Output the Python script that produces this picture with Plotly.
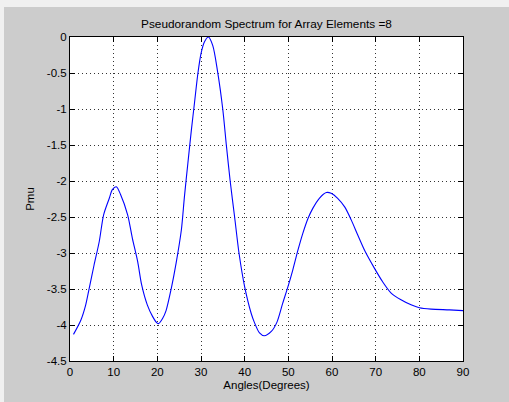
import plotly.graph_objects as go

angles = [0.8, 2.5, 3.6, 4.4, 5.5, 6.7, 7.7, 9.0, 9.7, 10.6, 11.6, 13.2, 14.3, 15.5, 16.4,
          17.7, 18.9, 19.9, 20.3, 21.2, 22.0, 23.2, 24.3, 25.5, 26.2, 27.0, 27.8, 28.5,
          29.3, 30.0, 30.8, 31.7, 32.7, 33.8, 35.0, 35.8, 36.7, 37.7, 38.7, 40.0, 41.5,
          42.2, 43.4, 44.5, 46.1, 47.4, 48.7, 49.9, 51.0, 52.2, 53.3, 54.5, 55.6, 57.1,
          58.7, 59.8, 61.3, 62.9, 64.4, 65.9, 67.6, 69.7, 71.6, 73.6, 75.8, 78.1, 80.0,
          82.7, 86.9, 90.0]
pmu = [-4.13, -3.93, -3.72, -3.49, -3.17, -2.84, -2.47, -2.24, -2.12, -2.08, -2.19, -2.47,
       -2.80, -3.12, -3.44, -3.72, -3.88, -3.97, -3.98, -3.91, -3.80, -3.49, -3.14, -2.68,
       -2.22, -1.75, -1.29, -0.92, -0.50, -0.23, -0.065, 0.0, -0.12, -0.48, -1.01, -1.50,
       -2.01, -2.50, -3.00, -3.47, -3.84, -3.96, -4.11, -4.15, -4.09, -3.96, -3.70, -3.47,
       -3.24, -2.96, -2.73, -2.52, -2.38, -2.24, -2.16, -2.17, -2.24, -2.36, -2.54, -2.75,
       -2.98, -3.21, -3.40, -3.56, -3.65, -3.72, -3.76, -3.78, -3.79, -3.80]

x_ticks = [0, 10, 20, 30, 40, 50, 60, 70, 80, 90]
y_ticks = [0, -0.5, -1, -1.5, -2, -2.5, -3, -3.5, -4, -4.5]
y_tick_labels = ["0", "-0.5", "-1", "-1.5", "-2", "-2.5", "-3", "-3.5", "-4", "-4.5"]

title_text = "Pseudorandom Spectrum for Array Elements =8"
x_label = "Angles(Degrees)"
y_label = "Pmu"

W, H = 509, 402
L, R, T, B = 70, 46, 37, 41

font = dict(family="Liberation Sans, Arial, sans-serif", size=11.5, color="#000000")

fig = go.Figure()
fig.add_trace(go.Scatter(x=angles, y=pmu, mode="lines",
                         line=dict(color="#0000ff", width=1.1, shape="spline", smoothing=0.8),
                         hoverinfo="skip", showlegend=False))

axis_common = dict(
    showline=True, linecolor="#000000", linewidth=1, mirror="ticks",
    ticks="inside", ticklen=5, tickcolor="#000000", tickwidth=1,
    showgrid=True, gridcolor="#333333", gridwidth=1, griddash="1px,3px",
    zeroline=False, tickfont=font, automargin=False,
)

fig.update_xaxes(range=[0, 90], tickvals=x_ticks, ticktext=[str(v) for v in x_ticks],
                 title=dict(text=x_label, font=font, standoff=4), **axis_common)
fig.update_yaxes(range=[-4.5, 0], tickvals=y_ticks, ticktext=y_tick_labels,
                 title=dict(text=y_label, font=font, standoff=9), **axis_common)

pw = W - L - R
ph = H - T - B
fig.update_layout(
    width=W, height=H,
    margin=dict(l=L, r=R, t=T, b=B, pad=0),
    paper_bgcolor="#cccccc", plot_bgcolor="#ffffff",
    font=font,
    title=dict(text=title_text, font=dict(family=font["family"], size=11.8, color="#000000"),
               x=0.5, xref="paper", xanchor="center",
               y=1 - 23.5 / H, yref="container", yanchor="middle", automargin=False),
    shapes=[
        dict(type="rect", xref="paper", yref="paper", layer="below",
             x0=-0.5, x1=1.5, y0=(H - B - 7) / ph, y1=1.5,
             line=dict(width=0), fillcolor="#f0f0f0"),
        dict(type="rect", xref="paper", yref="paper", layer="below",
             x0=-0.5, x1=(4 - L) / pw, y0=-0.5, y1=1.5,
             line=dict(width=0), fillcolor="#f0f0f0"),
    ],
)

fig.write_html("out.html", config={"displayModeBar": False},
               post_script="document.body.style.margin='0px';document.body.style.overflow='hidden';")
